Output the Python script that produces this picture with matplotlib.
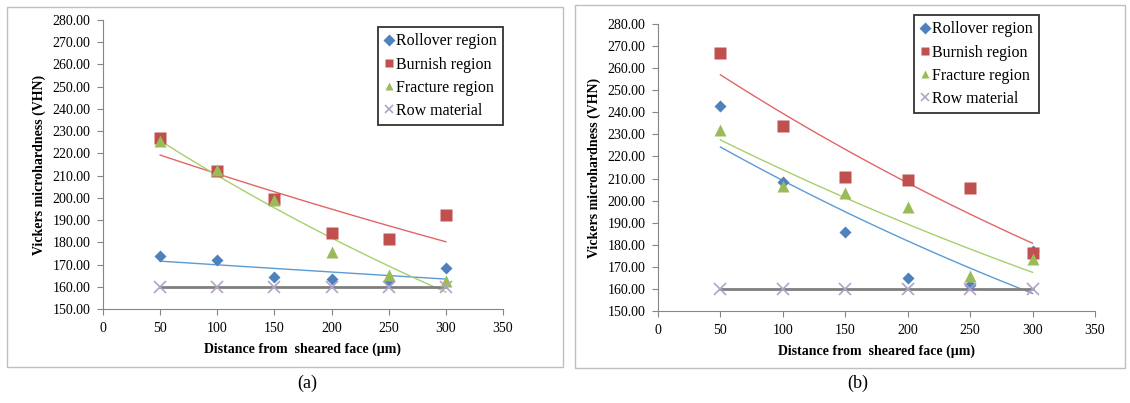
import numpy as np
import matplotlib
matplotlib.use("Agg")
import matplotlib.pyplot as plt
from matplotlib.patches import Rectangle

plt.rcParams['font.family'] = ['Liberation Serif', 'DejaVu Serif']

distance = [50, 100, 150, 200, 250, 300]
series_names = ["Rollover region", "Burnish region", "Fracture region", "Row material"]

a_rollover = [174.0, 172.0, 164.5, 163.5, 162.5, 168.5]
a_burnish = [227.0, 212.0, 199.5, 184.0, 181.5, 192.5]
a_fracture = [225.5, 212.5, 199.0, 175.5, 165.5, 162.5]
a_row = [160.0, 160.0, 160.0, 160.0, 160.0, 160.0]

b_rollover = [242.7, 208.6, 185.6, 165.0, 162.0, 177.0]
b_burnish = [267.0, 234.0, 210.8, 209.4, 205.9, 176.3]
b_fracture = [231.9, 206.8, 203.3, 197.3, 165.7, 173.6]
b_row = [160.0, 160.0, 160.0, 160.0, 160.0, 160.0]

y_ticks = [150, 160, 170, 180, 190, 200, 210, 220, 230, 240, 250, 260, 270, 280]
x_ticks = [0, 50, 100, 150, 200, 250, 300, 350]
captions = ["(a)", "(b)"]
xlabel = "Distance from  sheared face (µm)"
ylabel = "Vickers microhardness (VHN)"

marker_colors = ["#4F81BD", "#C0504D", "#9BBB59", "#B3A2C7"]
trend_colors = ["#5B9BD5", "#E06666", "#A9CF6A", "#7F7F7F"]
markers = ["D", "s", "^", "x"]
msizes = [6, 9, 8, 9]

fig = plt.figure(figsize=(11.30, 4.03), dpi=100)
W, H = 1130.0, 403.0

def exp_trend(x, y):
    x = np.asarray(x, float)
    y = np.asarray(y, float)
    b, a = np.polyfit(x, np.log(y), 1)
    xs = np.linspace(x.min(), x.max(), 100)
    return xs, np.exp(a + b * xs)

def draw_panel(rect, data, legend_pos, border):
    fig.add_artist(Rectangle((border[0], border[1]), border[2], border[3],
                             transform=fig.transFigure, fill=False,
                             edgecolor="#BFBFBF", linewidth=1.0))
    ax = fig.add_axes(rect)
    for i, ys in enumerate(data):
        if i < 3:
            xs, ts = exp_trend(distance, ys)
            ax.plot(xs, ts, color=trend_colors[i], linewidth=1.0, zorder=2)
        else:
            ax.plot(distance, ys, color=trend_colors[i], linewidth=2.0, zorder=2)
    for i, (name, ys) in enumerate(zip(series_names, data)):
        ax.plot(distance, ys, linestyle="none", marker=markers[i],
                markersize=msizes[i], color=marker_colors[i],
                markeredgewidth=1.2 if i == 3 else 0.5,
                markeredgecolor=marker_colors[i] if i == 3 else "none",
                label=name, zorder=3)
    ax.set_xlim(0, 350)
    ax.set_ylim(150, 280)
    ax.set_xticks(x_ticks)
    ax.set_yticks(y_ticks)
    ax.set_yticklabels([f"{v:.2f}" for v in y_ticks])
    ax.tick_params(labelsize=10, length=4, color="#868686")
    ax.tick_params(axis="y", pad=5)
    ax.tick_params(axis="x", pad=5)
    for s in ["top", "right"]:
        ax.spines[s].set_visible(False)
    for s in ["left", "bottom"]:
        ax.spines[s].set_color("#868686")
    ax.set_xlabel(xlabel, fontsize=10, fontweight="bold", labelpad=6)
    ax.set_ylabel(ylabel, fontsize=10, fontweight="bold", labelpad=5)
    ax.patch.set_alpha(0)
    leg = fig.legend(loc="upper left", bbox_to_anchor=legend_pos,
                     bbox_transform=fig.transFigure,
                     handles=ax.get_legend_handles_labels()[0],
                     fontsize=11.5, frameon=True, fancybox=False, borderpad=0.4,
                     handlelength=0.6, handletextpad=0.1, labelspacing=0.45,
                     borderaxespad=0)
    leg.get_frame().set_edgecolor("black")
    leg.get_frame().set_linewidth(1.3)
    for h in leg.legend_handles:
        h.set_markersize(6)
    return ax

draw_panel([103 / W, 1 - 309 / H, 400 / W, 289 / H],
           [a_rollover, a_burnish, a_fracture, a_row],
           (378 / W, 1 - 27 / H),
           (7 / W, 1 - 367 / H, 556 / W, 360 / H))
draw_panel([658 / W, 1 - 311 / H, 437 / W, 287 / H],
           [b_rollover, b_burnish, b_fracture, b_row],
           (914 / W, 1 - 15 / H),
           (575 / W, 1 - 368 / H, 550 / W, 363 / H))

fig.text(307 / W, 1 - 383 / H, captions[0], fontsize=13, ha="center", va="center")
fig.text(858 / W, 1 - 383 / H, captions[1], fontsize=13, ha="center", va="center")

fig.savefig("out.png", dpi=100)
